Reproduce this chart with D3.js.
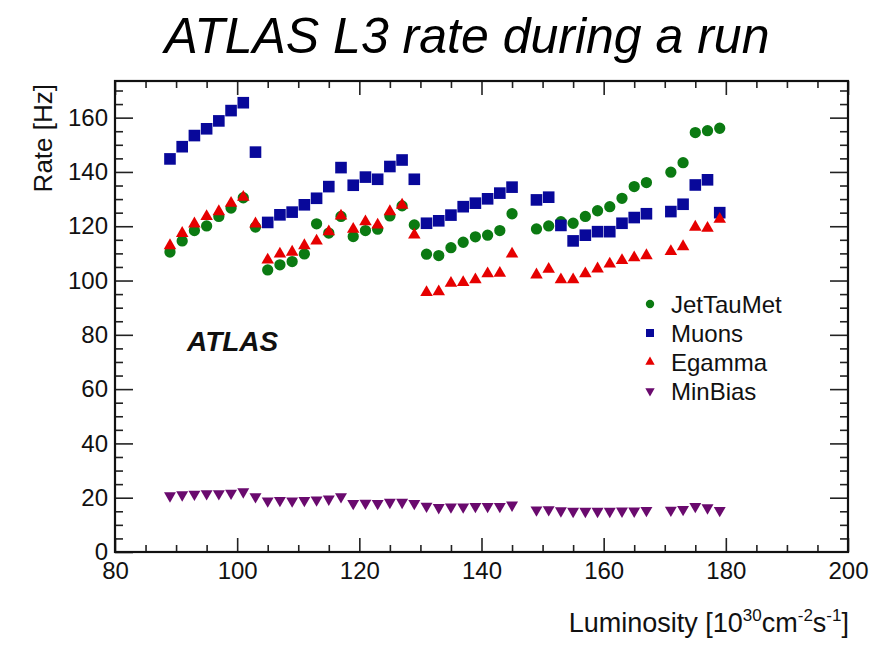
<!DOCTYPE html>
<html><head><meta charset="utf-8">
<script src="https://cdn.jsdelivr.net/npm/d3@7"></script>
<style>body{margin:0;background:#fff}svg{display:block}text{font-family:"Liberation Sans",Arial,Helvetica,sans-serif}</style>
</head><body>
<svg id="c" width="887" height="650"></svg>
<script>
// luminosity values (x) for each block of the run
const lumi = [89,91,93,95,97,99,101,103,105,107,109,111,113,115,117,119,121,123,125,127,129,
  131,133,135,137,139,141,143,145,149,151,153,155,157,159,161,163,165,167,171,173,175,177,179];
const jetTauMet = [110.5,114.6,118.4,120.1,123.6,126.7,130.5,119.7,103.9,105.8,107.0,109.8,120.9,117.5,123.6,116.2,118.4,118.9,123.8,127.5,120.5,
  109.7,109.2,112.1,114.1,116.1,116.7,118.4,124.6,119.0,120.1,121.7,121.1,123.6,125.7,127.2,130.3,134.6,136.1,139.9,143.4,154.5,155.2,156.1];
const muons = [144.8,149.3,153.4,155.9,158.8,162.6,165.5,147.3,121.4,124.2,125.2,127.9,130.3,134.6,141.6,135.1,138.1,137.3,142.0,144.4,137.3,
  121.1,122.0,124.1,127.2,128.5,130.1,132.2,134.4,129.7,130.7,120.3,114.6,116.7,118.0,118.0,121.1,123.2,124.6,125.4,128.1,135.2,137.1,125.0];
const egamma = [112.9,117.4,120.9,123.6,125.4,128.5,130.7,120.9,107.6,109.8,110.5,112.9,114.6,118.0,123.8,118.9,121.7,120.5,125.4,127.8,116.8,
  95.6,95.9,99.0,99.3,100.3,102.5,102.7,109.8,102.1,104.2,100.3,100.3,102.5,104.3,106.1,107.4,108.4,109.2,110.7,112.5,119.7,119.3,122.6];
const minBias = [20.7,21.1,21.3,21.5,21.5,21.7,22.2,20.4,18.8,19.0,18.8,19.0,19.2,19.5,20.4,17.9,18.0,17.9,18.3,18.3,17.9,
  16.9,16.4,16.6,16.6,16.8,16.8,16.8,17.3,15.5,15.6,15.2,15.0,15.0,15.0,15.0,15.1,15.1,15.3,15.4,15.7,16.8,16.3,15.3];
const seriesNames = ["JetTauMet","Muons","Egamma","MinBias"];
const xTicks = [80,100,120,140,160,180,200];
const yTicks = [0,20,40,60,80,100,120,140,160];

const svg = d3.select("#c");
const L=115,R=848,T=81,B=552;
const x = d3.scaleLinear().domain([80,200]).range([L,R]);
const y = d3.scaleLinear().domain([0,173.5]).range([B,T]);

const xMinor = d3.range(80,201,5).filter(v=>v%20!==0);
const yMinor = d3.range(0,174,5).filter(v=>v%20!==0);

function styleAxis(g){g.select(".domain").remove();g.selectAll("line").attr("stroke","#222").attr("stroke-width",1.6);}
// bottom
svg.append("g").attr("transform",`translate(0,${B})`).call(d3.axisBottom(x).tickValues(xTicks).tickSize(-14).tickPadding(10).tickFormat(d3.format("d")))
  .call(styleAxis).call(g=>g.selectAll("text").attr("font-size",24).attr("fill","#111"));
svg.append("g").attr("transform",`translate(0,${B})`).call(d3.axisBottom(x).tickValues(xMinor).tickSize(-7).tickFormat(""))
  .call(styleAxis);
// top
svg.append("g").attr("transform",`translate(0,${T})`).call(d3.axisTop(x).tickValues(xTicks).tickSize(-14).tickFormat("")).call(styleAxis);
svg.append("g").attr("transform",`translate(0,${T})`).call(d3.axisTop(x).tickValues(xMinor).tickSize(-7).tickFormat("")).call(styleAxis);
// left
svg.append("g").attr("transform",`translate(${L},0)`).call(d3.axisLeft(y).tickValues(yTicks).tickSize(-18).tickPadding(7).tickFormat(d3.format("d")))
  .call(styleAxis).call(g=>g.selectAll("text").attr("font-size",24).attr("fill","#111"));
svg.append("g").attr("transform",`translate(${L},0)`).call(d3.axisLeft(y).tickValues(yMinor).tickSize(-8).tickFormat("")).call(styleAxis);
// right
svg.append("g").attr("transform",`translate(${R},0)`).call(d3.axisRight(y).tickValues(yTicks.filter(v=>v>0)).tickSize(-18).tickFormat("")).call(styleAxis);
svg.append("g").attr("transform",`translate(${R},0)`).call(d3.axisRight(y).tickValues(yMinor).tickSize(-8).tickFormat("")).call(styleAxis);
// frame
svg.append("rect").attr("x",L).attr("y",T).attr("width",R-L).attr("height",B-T).attr("fill","none").attr("stroke","#111").attr("stroke-width",2.2);

// series
const cfg = [
  {name:"JetTauMet", vals:jetTauMet, color:"#0b7a12", type:d3.symbolCircle, size:100, rot:0, lsize:55},
  {name:"Muons", vals:muons, color:"#08089a", type:d3.symbolSquare, size:135, rot:0, lsize:64},
  {name:"Egamma", vals:egamma, color:"#e60000", type:d3.symbolTriangle, size:68, rot:0, lsize:38},
  {name:"MinBias", vals:minBias, color:"#6a0a6e", type:d3.symbolTriangle, size:62, rot:180, lsize:38}
];
cfg.forEach(s=>{
  const sym = d3.symbol().type(s.type).size(s.size);
  svg.append("g").selectAll("path").data(lumi.map((l,i)=>[l,s.vals[i]])).join("path")
    .attr("d",sym).attr("fill",s.color)
    .attr("transform",d=>`translate(${x(d[0])},${y(d[1])}) rotate(${s.rot})`);
});

// legend
const lg = svg.append("g");
cfg.forEach((s,i)=>{
  const yy = 304 + i*29;
  lg.append("path").attr("d",d3.symbol().type(s.type).size(s.lsize)()).attr("fill",s.color)
    .attr("transform",`translate(650,${yy}) rotate(${s.rot})`);
  lg.append("text").attr("x",671).attr("y",yy).attr("dy","0.36em").attr("font-size",24).attr("fill","#111").text(seriesNames[i]);
});

// ATLAS label
svg.append("text").attr("x",187).attr("y",351).attr("font-size",28).attr("font-weight","bold").attr("font-style","italic").attr("fill","#111").text("ATLAS");

// title
svg.append("text").attr("x",467).attr("y",53).attr("text-anchor","middle").attr("font-size",50).attr("font-style","italic").attr("fill","#000").text("ATLAS L3 rate during a run");

// y label
svg.append("text").attr("transform","translate(52,84) rotate(-90)").attr("text-anchor","end").attr("font-size",26).attr("fill","#111").text("Rate [Hz]");

// x label
const xl = svg.append("text").attr("x",849).attr("y",632).attr("text-anchor","end").attr("font-size",27).attr("fill","#111");
xl.append("tspan").text("Luminosity [10");
xl.append("tspan").attr("dy",-11).attr("font-size",17).text("30");
xl.append("tspan").attr("dy",11).text("cm");
xl.append("tspan").attr("dy",-11).attr("font-size",17).text("-2");
xl.append("tspan").attr("dy",11).text("s");
xl.append("tspan").attr("dy",-11).attr("font-size",17).text("-1");
xl.append("tspan").attr("dy",11).text("]");
</script>
</body></html>
